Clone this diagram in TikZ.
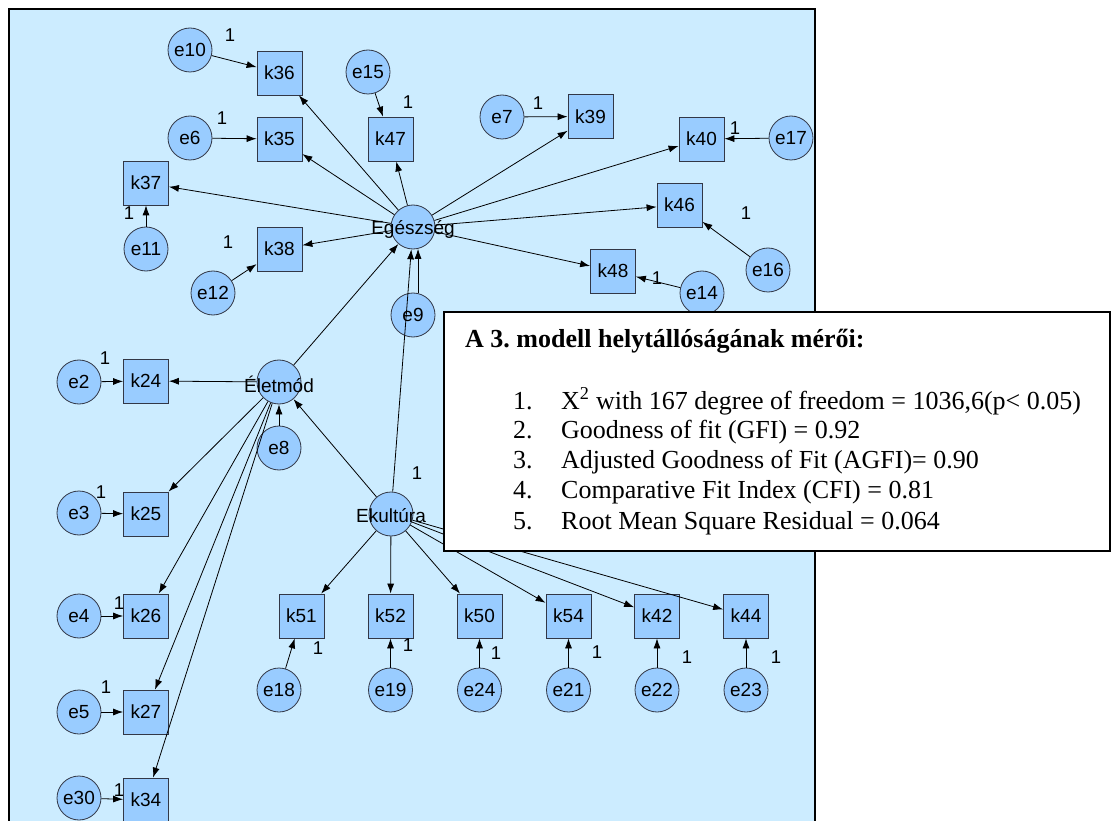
\documentclass[tikz,border=0pt]{standalone}
\usepackage{fontspec}
\setmainfont{Liberation Serif}
\newfontfamily\amosfont{Liberation Sans}
\frenchspacing
\usetikzlibrary{arrows.meta}

\definecolor{panelbg}{RGB}{204,236,255}
\definecolor{varfill}{RGB}{153,204,255}
\definecolor{varline}{RGB}{50,55,70}

\tikzset{
  latent/.style={circle, draw=varline, fill=varfill, line width=0.8pt, minimum size=44pt, inner sep=0pt, label={[font=\amosfont\fontsize{19}{21}\selectfont, yshift=-2pt]center:#1}},
  errvar/.style={circle, draw=varline, fill=varfill, line width=0.8pt, minimum size=44pt, inner sep=0pt, font=\amosfont\fontsize{19}{21}\selectfont},
  obsvar/.style={rectangle, draw=varline, fill=varfill, line width=0.8pt, minimum width=45pt, minimum height=44pt, inner sep=0pt, font=\amosfont\fontsize{19}{21}\selectfont},
  regpath/.style={-{Latex[length=10pt,width=7pt]}, line width=0.8pt},
  weight/.style={inner sep=0pt, font=\amosfont\fontsize{18.5}{20}\selectfont},
  fitline/.style={anchor=base west, inner sep=0pt, font=\fontsize{26}{30}\selectfont}
}

\begin{document}
\begin{tikzpicture}[x=1pt,y=-1pt]
\useasboundingbox (0,0) rectangle (1112,821);

% panel of the path diagram
\fill[panelbg] (9,9) rectangle (815,821);
\draw[line width=2pt] (9,821) -- (9,9) -- (815,9) -- (815,821);

% latent variables
\node[latent=Egészség] (egeszseg) at (413,227) {};
\node[latent=Életmód] (eletmod) at (279,382) {};
\node[latent=Ekultúra] (ekultura) at (391,514) {};

% indicators of Egeszseg
\node[obsvar] (k36) at (279.5,73) {k36};
\node[obsvar] (k35) at (279.5,139) {k35};
\node[obsvar] (k37) at (146,183) {k37};
\node[obsvar] (k38) at (279.5,249) {k38};
\node[obsvar] (k47) at (390.5,139) {k47};
\node[obsvar] (k39) at (590.5,116.5) {k39};
\node[obsvar] (k40) at (701.5,139) {k40};
\node[obsvar] (k46) at (679.5,205) {k46};
\node[obsvar] (k48) at (613,271) {k48};

% indicators of Eletmod
\node[obsvar] (k24) at (146,381) {k24};
\node[obsvar] (k25) at (146,514) {k25};
\node[obsvar] (k26) at (146,616) {k26};
\node[obsvar] (k27) at (146,712) {k27};
\node[obsvar] (k34) at (146,800) {k34};

% indicators of Ekultura
\node[obsvar] (k51) at (301.5,616) {k51};
\node[obsvar] (k52) at (390.5,616) {k52};
\node[obsvar] (k50) at (479.5,616) {k50};
\node[obsvar] (k54) at (568.5,616) {k54};
\node[obsvar] (k42) at (657,616) {k42};
\node[obsvar] (k44) at (746,616) {k44};

% error terms
\node[errvar] (e10) at (190,50) {e10};
\node[errvar] (e15) at (368,72) {e15};
\node[errvar] (e6) at (190,138) {e6};
\node[errvar] (e11) at (146,249) {e11};
\node[errvar] (e12) at (213,293) {e12};
\node[errvar] (e9) at (413,315) {e9};
\node[errvar] (e7) at (502,117) {e7};
\node[errvar] (e17) at (791,138) {e17};
\node[errvar] (e16) at (768,270) {e16};
\node[errvar] (e14) at (702,293) {e14};
\node[errvar] (e2) at (79,382) {e2};
\node[errvar] (e8) at (279,448) {e8};
\node[errvar] (e3) at (79,513) {e3};
\node[errvar] (e4) at (79,616) {e4};
\node[errvar] (e5) at (79,712) {e5};
\node[errvar] (e30) at (79,798) {e30};
\node[errvar] (e18) at (279,690) {e18};
\node[errvar] (e19) at (390.5,690) {e19};
\node[errvar] (e24) at (479.5,690) {e24};
\node[errvar] (e21) at (568.5,690) {e21};
\node[errvar] (e22) at (657,690) {e22};
\node[errvar] (e23) at (746,690) {e23};

% structural paths
\draw[regpath] (eletmod) -- (egeszseg);
\draw[regpath] (ekultura) -- (egeszseg);
\draw[regpath] (ekultura) -- (eletmod);
\draw[regpath] (e9.77) -- (egeszseg.-77);
\draw[regpath] (e8) -- (eletmod);

% loadings
\draw[regpath] (egeszseg) -- (k36);
\draw[regpath] (egeszseg) -- (k35);
\draw[regpath] (egeszseg) -- (k37);
\draw[regpath] (egeszseg) -- (k38);
\draw[regpath] (egeszseg) -- (k47);
\draw[regpath] (egeszseg) -- (k39);
\draw[regpath] (egeszseg) -- (k40);
\draw[regpath] (egeszseg) -- (k46);
\draw[regpath] (egeszseg) -- (k48);
\draw[regpath] (eletmod) -- (k24);
\draw[regpath] (eletmod) -- (k25);
\draw[regpath] (eletmod) -- (k26);
\draw[regpath] (eletmod) -- (k27);
\draw[regpath] (eletmod) -- (k34);
\draw[regpath] (ekultura) -- (k51);
\draw[regpath] (ekultura) -- (k52);
\draw[regpath] (ekultura) -- (k50);
\draw[regpath] (ekultura) -- (k54);
\draw[regpath] (ekultura) -- (k42);
\draw[regpath] (ekultura) -- (k44);

% measurement errors
\draw[regpath] (e10) -- (k36);
\draw[regpath] (e15) -- (k47);
\draw[regpath] (e6) -- (k35);
\draw[regpath] (e11) -- (k37);
\draw[regpath] (e12) -- (k38);
\draw[regpath] (e7) -- (k39);
\draw[regpath] (e17) -- (k40);
\draw[regpath] (e16) -- (k46);
\draw[regpath] (e14) -- (k48);
\draw[regpath] (e2) -- (k24);
\draw[regpath] (e3) -- (k25);
\draw[regpath] (e4) -- (k26);
\draw[regpath] (e5) -- (k27);
\draw[regpath] (e30) -- (k34);
\draw[regpath] (e18) -- (k51);
\draw[regpath] (e19) -- (k52);
\draw[regpath] (e24) -- (k50);
\draw[regpath] (e21) -- (k54);
\draw[regpath] (e22) -- (k42);
\draw[regpath] (e23) -- (k44);

% fixed weights
\node[weight] (w10) at (230,35) {1};
\node[weight] (w15) at (408,102) {1};
\node[weight] (w6) at (222,118) {1};
\node[weight] (w11) at (129,213) {1};
\node[weight] (w12) at (228,242) {1};
\node[weight] (w7) at (538,103) {1};
\node[weight] (w17) at (735,128) {1};
\node[weight] (w16) at (746,213) {1};
\node[weight] (w14) at (657,278) {1};
\node[weight] (w2) at (105,358) {1};
\node[weight] (w3) at (101,492) {1};
\node[weight] (w4) at (119,603) {1};
\node[weight] (w5) at (106,687) {1};
\node[weight] (w30) at (119,790) {1};
\node[weight] (wek) at (417,473) {1};
\node[weight] (w18) at (318,648) {1};
\node[weight] (w19) at (408,645) {1};
\node[weight] (w24) at (496,653) {1};
\node[weight] (w21) at (597,652) {1};
\node[weight] (w22) at (687,657) {1};
\node[weight] (w23) at (776,657) {1};

% fit indices
\draw[line width=2pt, fill=white] (444,312) rectangle (1110,551);
\node[fitline] (fittitle) at (465,348) {\bfseries A 3. modell helytállóságának mérői:};
\node[fitline] (num1) at (513,409) {1.};
\node[fitline] (num2) at (513,438) {2.};
\node[fitline] (num3) at (513,468) {3.};
\node[fitline] (num4) at (513,498) {4.};
\node[fitline] (num5) at (513,529) {5.};
\node[fitline] (fit1) at (561,409) {X\textsuperscript{2} with 167 degree of freedom = 1036,6(p< 0.05)};
\node[fitline] (fit2) at (561,438) {Goodness of fit (GFI) = 0.92};
\node[fitline] (fit3) at (561,468) {Adjusted Goodness of Fit (AGFI)= 0.90};
\node[fitline] (fit4) at (561,498) {Comparative Fit Index (CFI) = 0.81};
\node[fitline] (fit5) at (561,529) {Root Mean Square Residual = 0.064};
\end{tikzpicture}
\end{document}
